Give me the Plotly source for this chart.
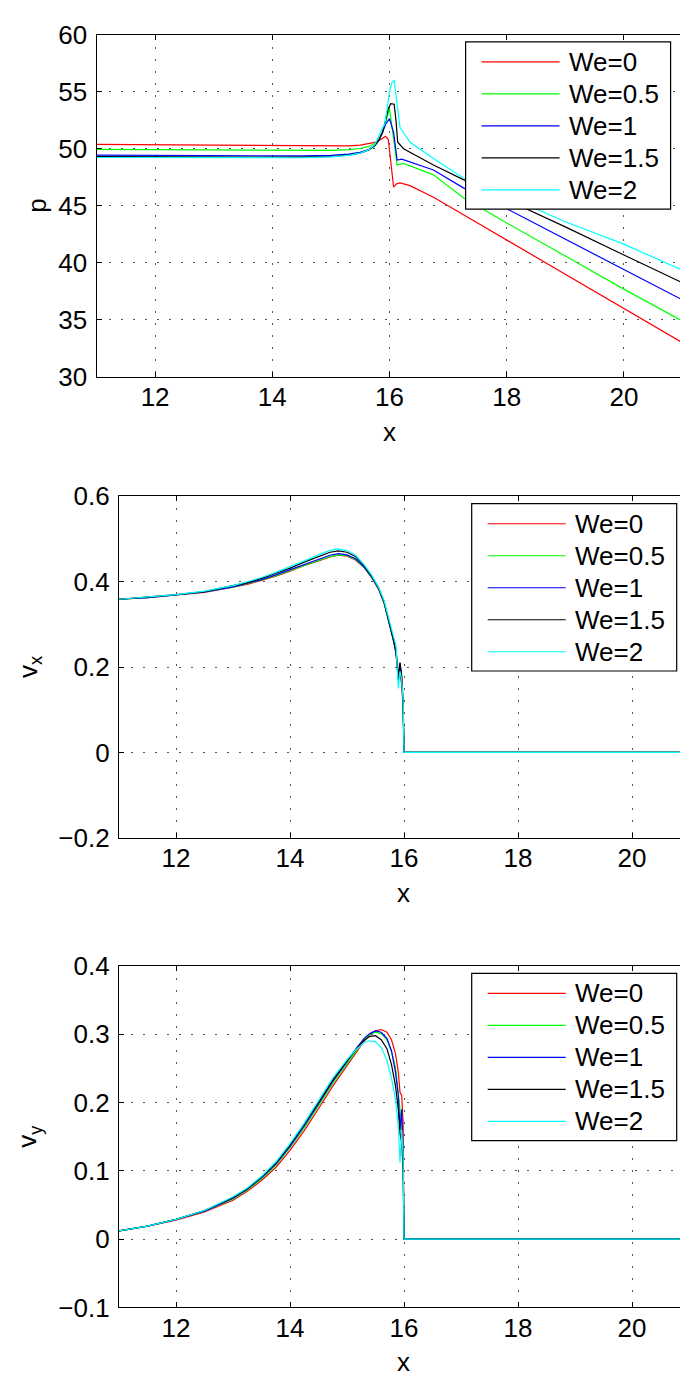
import plotly.graph_objects as go

W, H = 680, 1389

SERIES = ["We=0", "We=0.5", "We=1", "We=1.5", "We=2"]
COLORS = ["#ff0000", "#00ff00", "#0000ff", "#000000", "#00ffff"]

# ---- pressure p(x) ----
P_X_WE0 = [11, 12, 13, 14, 14.5, 15, 15.3, 15.5, 15.65, 15.75, 15.85, 15.93, 15.98, 16.03,
           16.07, 16.12, 16.18, 16.35, 16.75, 17.3, 18, 19, 20, 21]
P_WE0 = [50.38, 50.34, 50.3, 50.26, 50.23, 50.22, 50.25, 50.32, 50.42, 50.55, 50.8, 51.09, 50.8,
         48.5, 46.63, 46.92, 47.0, 46.77, 45.75, 44.1, 42.0, 38.97, 35.95, 33.0]

P_X_WE05 = [11, 12, 13, 14, 14.5, 15, 15.3, 15.5, 15.65, 15.75, 15.82, 15.88, 15.94, 16.0,
            16.04, 16.09, 16.13, 16.24, 16.75, 17.26, 18, 19, 20, 21]
P_WE05 = [49.95, 49.92, 49.88, 49.85, 49.83, 49.85, 49.92, 50.02, 50.2, 50.45, 50.8, 51.4, 52.4,
          53.5, 52.0, 49.8, 48.57, 48.71, 47.71, 45.71, 43.5, 40.6, 37.7, 34.9]

P_X_WE1 = [11, 12, 13, 14, 14.5, 15, 15.3, 15.5, 15.65, 15.75, 15.82, 15.88, 15.94, 16.0, 16.07,
           16.13, 16.21, 16.75, 17.26, 18, 19, 20, 21]
P_WE1 = [49.43, 49.41, 49.39, 49.37, 49.37, 49.42, 49.52, 49.68, 49.95, 50.3, 50.8, 51.45, 52.2,
         52.63, 51.43, 49.0, 49.09, 48.14, 46.57, 44.74, 42.08, 39.42, 36.75]

P_X_WE15 = [11, 12, 13, 14, 14.5, 15, 15.3, 15.5, 15.65, 15.75, 15.82, 15.88, 15.94, 15.98,
            16.02, 16.08, 16.11, 16.14, 16.24, 16.75, 17.26, 18, 19, 20, 21]
P_WE15 = [49.3, 49.28, 49.26, 49.25, 49.26, 49.32, 49.44, 49.62, 49.9, 50.25, 50.75, 51.4, 52.6,
          53.5, 53.94, 53.9, 52.5, 50.57, 50.0, 48.57, 47.29, 45.56, 43.15, 40.69, 38.25]

P_X_WE2 = [11, 12, 13, 14, 14.5, 15, 15.3, 15.5, 15.65, 15.75, 15.84, 15.87, 15.92, 15.96, 16.0,
           16.04, 16.08, 16.12, 16.18, 16.35, 16.75, 17.26, 18, 19, 20, 21]
P_WE2 = [49.23, 49.21, 49.2, 49.2, 49.21, 49.28, 49.42, 49.62, 49.92, 50.35, 51.43, 51.7, 52.14,
         53.5, 55.0, 55.8, 56.0, 54.29, 51.86, 50.57, 49.14, 47.43, 45.85, 43.6, 41.64, 39.35]

# ---- horizontal velocity v_x(x) ----
VX_X = [11, 11.5, 12, 12.5, 13, 13.25, 13.5, 13.75, 14, 14.25, 14.5, 14.7, 14.85, 15.0, 15.15,
        15.3, 15.43, 15.55, 15.65, 15.75, 15.82, 15.86, 15.9, 15.93, 15.96, 15.985, 16.0, 21]
VX_WE0 = [0.359, 0.363, 0.369, 0.375, 0.387, 0.394, 0.403, 0.413, 0.425, 0.438, 0.449, 0.458,
          0.462, 0.460, 0.451, 0.433, 0.410, 0.383, 0.350, 0.299, 0.258, 0.24, 0.19, 0.18, 0.16,
          0.1, 0, 0]
VX_WE05 = [0.359, 0.363, 0.369, 0.376, 0.387, 0.395, 0.404, 0.414, 0.426, 0.439, 0.450, 0.459,
           0.463, 0.461, 0.452, 0.434, 0.411, 0.384, 0.351, 0.300, 0.258, 0.236, 0.185, 0.2,
           0.175, 0.1, 0, 0]
VX_WE1 = [0.359, 0.363, 0.369, 0.376, 0.388, 0.396, 0.405, 0.416, 0.428, 0.441, 0.453, 0.462,
          0.466, 0.463, 0.454, 0.435, 0.412, 0.385, 0.352, 0.301, 0.26, 0.23, 0.175, 0.21, 0.17,
          0.11, 0, 0]
VX_WE15 = [0.359, 0.364, 0.370, 0.377, 0.390, 0.398, 0.408, 0.420, 0.432, 0.446, 0.459, 0.469,
           0.4725, 0.469, 0.459, 0.438, 0.414, 0.387, 0.354, 0.303, 0.262, 0.235, 0.17, 0.21,
           0.18, 0.12, 0, 0]
VX_WE2 = [0.359, 0.364, 0.370, 0.378, 0.391, 0.400, 0.410, 0.422, 0.435, 0.449, 0.463, 0.4735,
          0.477, 0.473, 0.462, 0.440, 0.416, 0.388, 0.356, 0.305, 0.265, 0.25, 0.15, 0.19, 0.17,
          0.12, 0, 0]

# ---- vertical velocity v_y(x) ----
VY_X = [11, 11.5, 12, 12.5, 13, 13.25, 13.5, 13.75, 14, 14.25, 14.5, 14.75, 15, 15.15, 15.3,
        15.4, 15.5, 15.6, 15.7, 15.78, 15.85, 15.9, 15.93, 15.96, 15.985, 16.0, 21]
VY_WE0 = [0.012, 0.019, 0.028, 0.040, 0.057, 0.070, 0.086, 0.105, 0.130, 0.159, 0.191, 0.224,
          0.254, 0.272, 0.290, 0.300, 0.305, 0.307, 0.303, 0.292, 0.272, 0.245, 0.215, 0.21,
          0.17, 0, 0]
VY_WE05 = [0.012, 0.019, 0.029, 0.041, 0.059, 0.072, 0.088, 0.108, 0.134, 0.163, 0.195, 0.228,
           0.257, 0.275, 0.292, 0.300, 0.303, 0.301, 0.292, 0.275, 0.252, 0.215, 0.19, 0.165,
           0.12, 0, 0]
VY_WE1 = [0.012, 0.019, 0.029, 0.041, 0.060, 0.073, 0.090, 0.110, 0.136, 0.166, 0.198, 0.231,
          0.260, 0.278, 0.294, 0.301, 0.305, 0.303, 0.294, 0.276, 0.245, 0.21, 0.16, 0.19, 0.12,
          0, 0]
VY_WE15 = [0.012, 0.019, 0.029, 0.042, 0.061, 0.074, 0.091, 0.111, 0.138, 0.168, 0.200, 0.233,
           0.261, 0.277, 0.291, 0.297, 0.298, 0.292, 0.279, 0.256, 0.225, 0.19, 0.155, 0.14,
           0.1, 0, 0]
VY_WE2 = [0.012, 0.019, 0.029, 0.042, 0.062, 0.075, 0.092, 0.113, 0.140, 0.170, 0.203, 0.236,
          0.263, 0.277, 0.288, 0.2905, 0.289, 0.281, 0.262, 0.236, 0.205, 0.165, 0.112, 0.16,
          0.12, 0, 0]

X_TICKS = [12, 14, 16, 18, 20]
P_TICKS = [30, 35, 40, 45, 50, 55, 60]
VX_TICKS = [-0.2, 0, 0.2, 0.4, 0.6]
VY_TICKS = [-0.1, 0, 0.1, 0.2, 0.3, 0.4]

FONT = "Liberation Sans, Arial, Helvetica, sans-serif"
FS = 26

# panel frames in pixels: left, right, top, bottom
PANELS = [
    dict(l=96.5, r=680, t=20, b=370, xr=[11, 11 + (680 - 96.5) / 58.6], yr=[30, 60],
         ticks=P_TICKS, ylab="p", ylab_x=37),
    dict(l=119, r=680, t=492, b=841, xr=[11, 11 + (680 - 119) / 57.0], yr=[-0.2, 0.6],
         ticks=VX_TICKS, ylab="v<sub>x</sub>", ylab_x=29),
    dict(l=119, r=680, t=972, b=1321, xr=[11, 11 + (680 - 119) / 57.0], yr=[-0.1, 0.4],
         ticks=VY_TICKS, ylab="v<sub>y</sub>", ylab_x=29),
]
AXIS_RIGHT = [682.6, 688.7, 688.7]

panel_data = [
    [(P_X_WE0, P_WE0), (P_X_WE05, P_WE05), (P_X_WE1, P_WE1), (P_X_WE15, P_WE15), (P_X_WE2, P_WE2)],
    [(VX_X, VX_WE0), (VX_X, VX_WE05), (VX_X, VX_WE1), (VX_X, VX_WE15), (VX_X, VX_WE2)],
    [(VY_X, VY_WE0), (VY_X, VY_WE05), (VY_X, VY_WE1), (VY_X, VY_WE15), (VY_X, VY_WE2)],
]


def px(x):
    return x / W


def py(y):
    return 1 - y / H


fig = go.Figure()
layout = dict(
    width=W, height=H, margin=dict(l=0, r=0, t=0, b=0),
    paper_bgcolor="white", plot_bgcolor="white", showlegend=False,
    font=dict(family=FONT, size=FS, color="black"),
)
shapes, annotations = [], []

for i, pnl in enumerate(PANELS):
    n = "" if i == 0 else str(i + 1)
    for (xs, ys), name, col in zip(panel_data[i], SERIES, COLORS):
        fig.add_trace(go.Scatter(x=xs, y=ys, mode="lines", name=name,
                                 line=dict(color=col, width=1.2),
                                 xaxis="x" + n, yaxis="y" + n))
    common = dict(showline=True, linecolor="black", linewidth=1.2, ticks="inside",
                  ticklen=5, tickcolor="black", showgrid=True, gridcolor="#555",
                  griddash="2px,10px", gridwidth=1, zeroline=False,
                  tickfont=dict(family=FONT, size=FS, color="black"))
    layout["xaxis" + n] = dict(common, domain=[px(pnl["l"]), px(pnl["r"])], range=pnl["xr"],
                               anchor="y" + n, tickvals=X_TICKS, mirror="ticks",
                               ticklabelstandoff=-3)
    layout["yaxis" + n] = dict(common, domain=[py(pnl["b"]), py(pnl["t"])], range=pnl["yr"],
                               anchor="x" + n, tickvals=pnl["ticks"], mirror=False,
                               ticklabelstandoff=3)

    # axis titles
    annotations.append(dict(text=pnl["ylab"], x=px(pnl["ylab_x"]), y=py((pnl["t"] + pnl["b"]) / 2),
                            xref="paper", yref="paper", textangle=-90, showarrow=False,
                            xanchor="center", yanchor="middle", font=dict(size=FS)))
    annotations.append(dict(text="x", x=px((pnl["l"] + AXIS_RIGHT[i]) / 2), y=py(pnl["b"] + 56),
                            xref="paper", yref="paper", showarrow=False,
                            xanchor="center", yanchor="middle", font=dict(size=FS)))

    # legend box in the upper right corner
    bx1 = AXIS_RIGHT[i] - 12
    bx0 = bx1 - 205
    by0 = pnl["t"] + 7.5
    by1 = by0 + 171
    shapes.append(dict(type="rect", xref="paper", yref="paper", x0=px(bx0), x1=px(bx1),
                       y0=py(by0), y1=py(by1), fillcolor="white",
                       line=dict(color="black", width=1.2), layer="above"))
    for k, (name, col) in enumerate(zip(SERIES, COLORS)):
        yy = by0 + 20.5 + k * 32.7
        shapes.append(dict(type="line", xref="paper", yref="paper", x0=px(bx0 + 16),
                           x1=px(bx0 + 94), y0=py(yy), y1=py(yy),
                           line=dict(color=col, width=1.2), layer="above"))
        annotations.append(dict(text=name, x=px(bx0 + 101), y=py(yy), xref="paper",
                                yref="paper", showarrow=False, xanchor="left",
                                yanchor="middle", font=dict(size=FS)))

layout["shapes"] = shapes
layout["annotations"] = annotations
fig.update_layout(**layout)
fig.write_html("out.html")
